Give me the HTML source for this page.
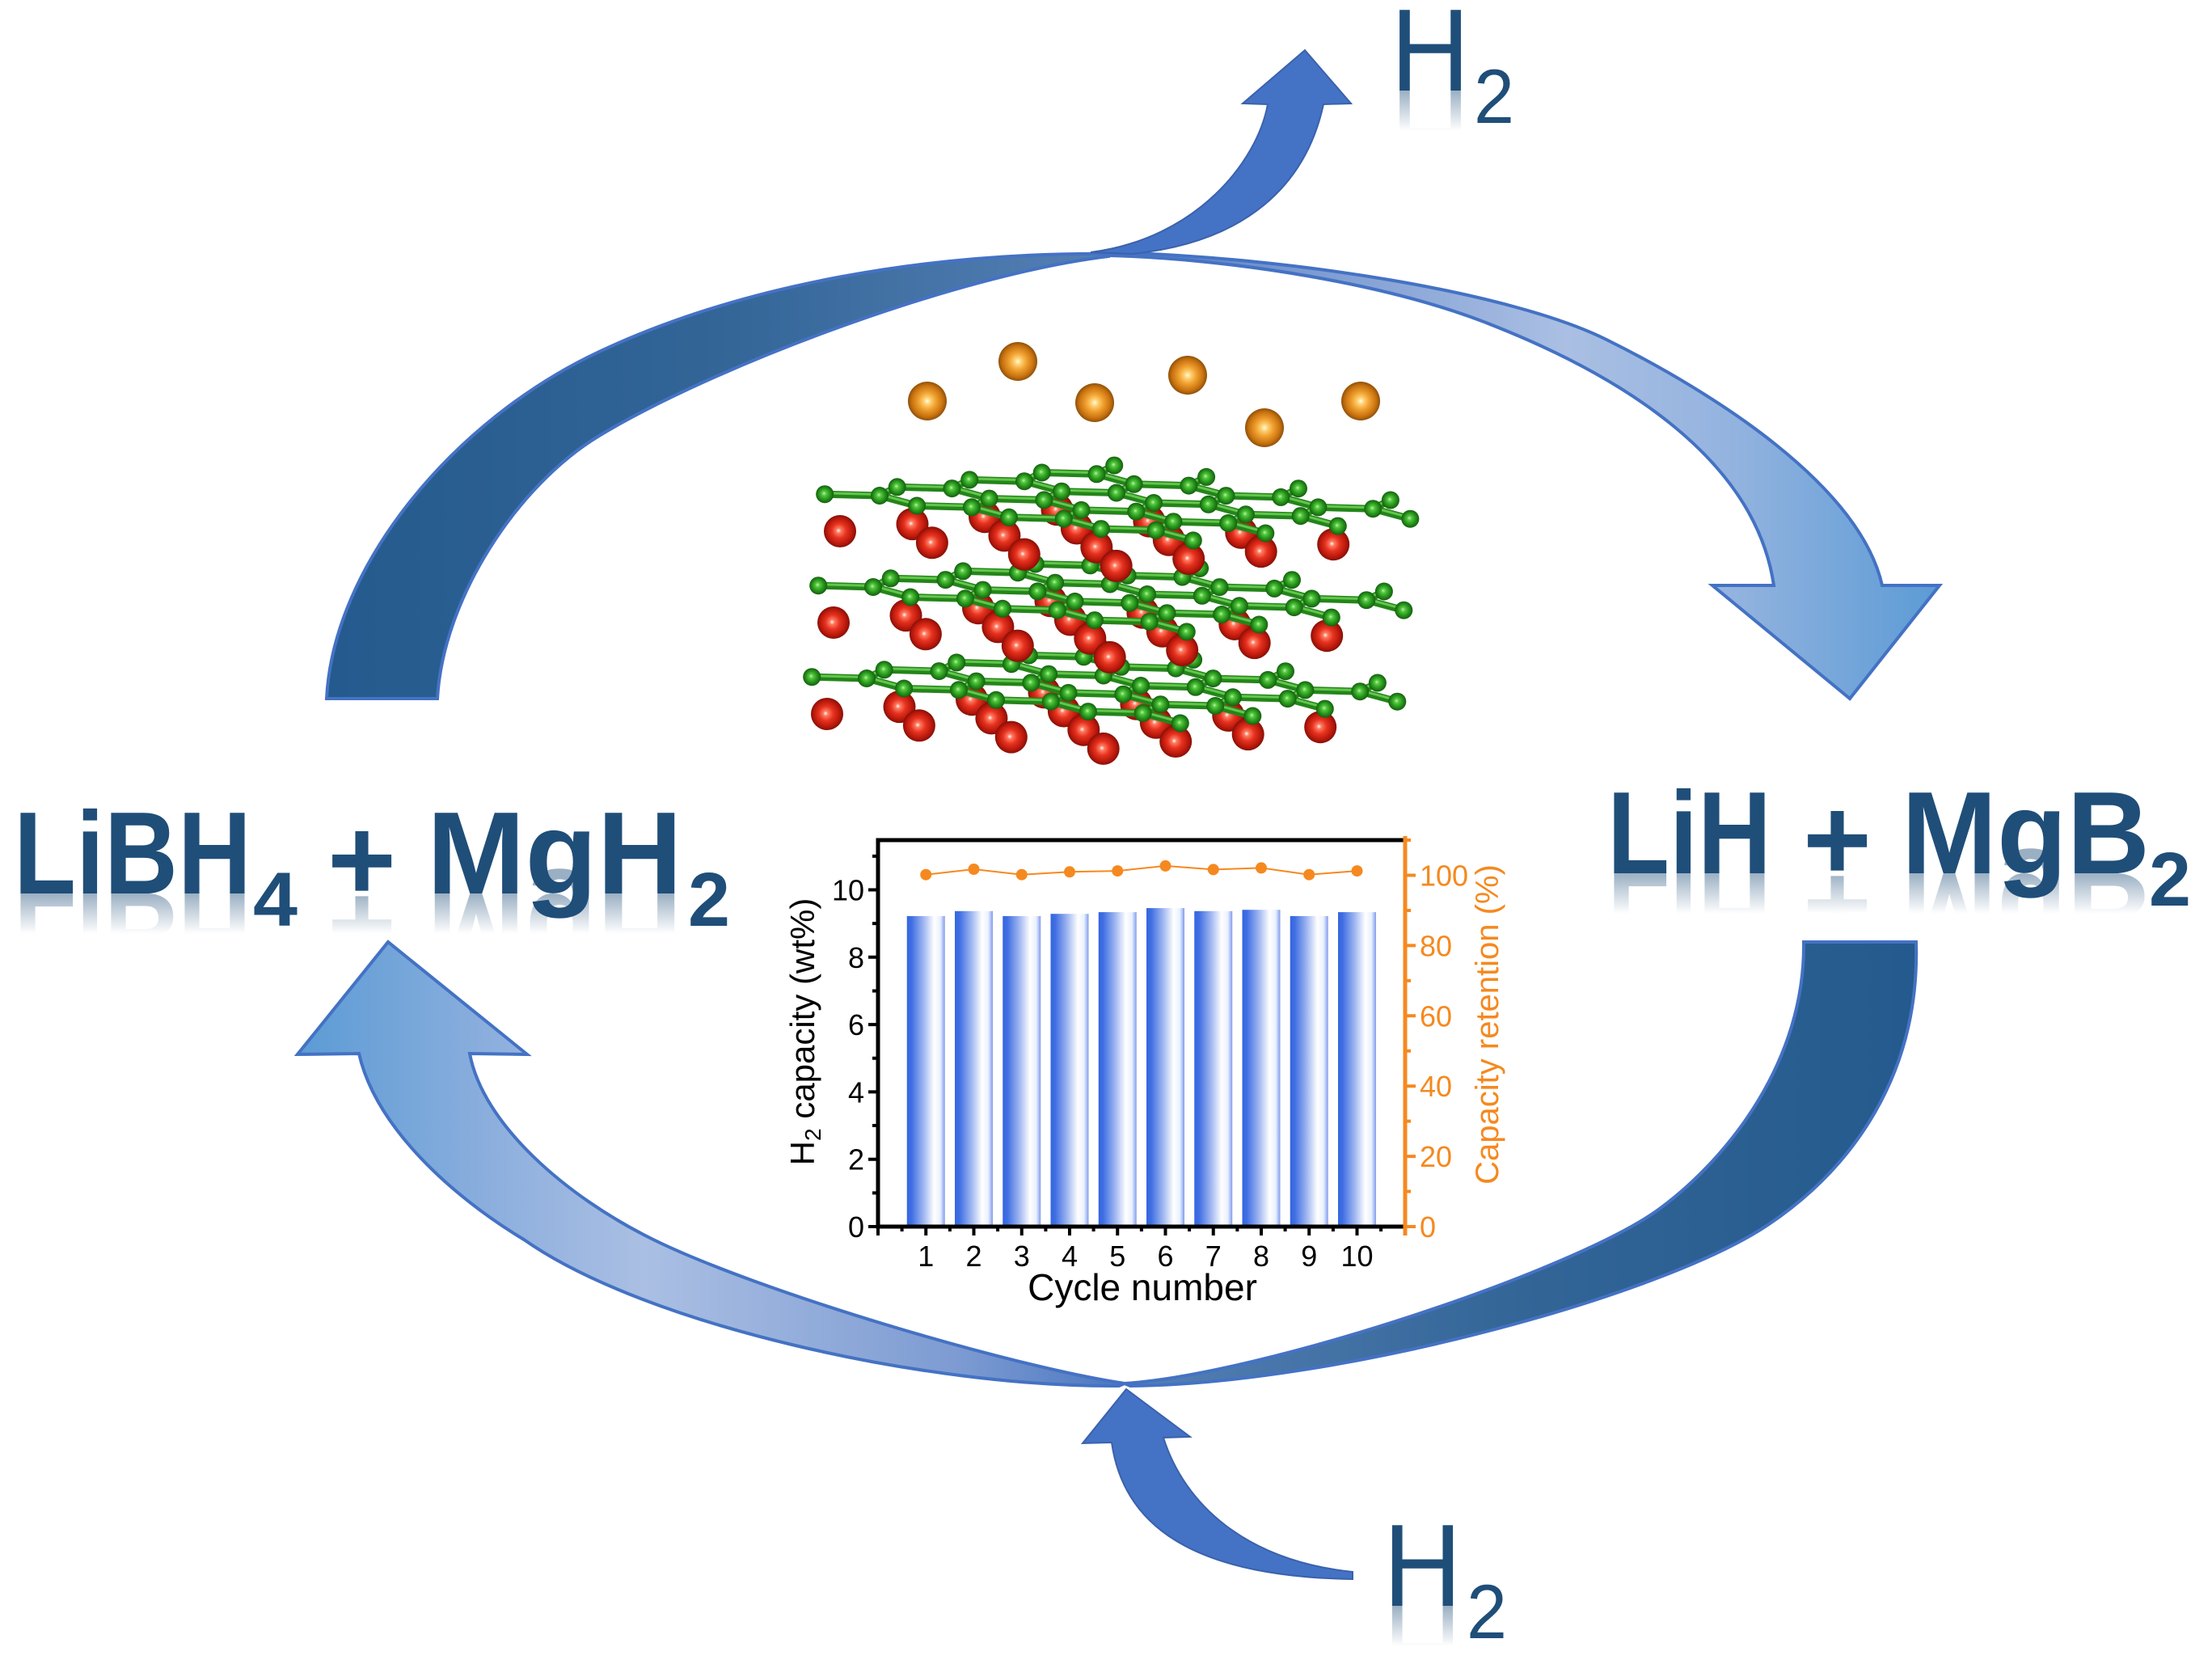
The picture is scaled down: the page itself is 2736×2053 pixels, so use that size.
<!DOCTYPE html>
<html>
<head>
<meta charset="utf-8">
<style>
html,body{margin:0;padding:0;background:#ffffff;}
svg{display:block;}
</style>
</head>
<body>
<svg width="2736" height="2053" viewBox="0 0 2736 2053">
<defs>
  <linearGradient id="gTL" gradientUnits="userSpaceOnUse" x1="404" y1="0" x2="1371" y2="0">
    <stop offset="0" stop-color="#245a8d"/>
    <stop offset="0.5" stop-color="#336597"/>
    <stop offset="1" stop-color="#5580b5"/>
  </linearGradient>
  <linearGradient id="gBR" gradientUnits="userSpaceOnUse" x1="1391" y1="0" x2="2370" y2="0">
    <stop offset="0" stop-color="#5580b5"/>
    <stop offset="0.5" stop-color="#336597"/>
    <stop offset="1" stop-color="#245a8d"/>
  </linearGradient>
  <linearGradient id="gTR" gradientUnits="userSpaceOnUse" x1="1371" y1="0" x2="2400" y2="0">
    <stop offset="0" stop-color="#4a76c0"/>
    <stop offset="0.2" stop-color="#7696cf"/>
    <stop offset="0.55" stop-color="#aabfe3"/>
    <stop offset="0.75" stop-color="#93b3df"/>
    <stop offset="1" stop-color="#5b9bd5"/>
  </linearGradient>
  <linearGradient id="gBL" gradientUnits="userSpaceOnUse" x1="368" y1="0" x2="1391" y2="0">
    <stop offset="0" stop-color="#5b9bd5"/>
    <stop offset="0.25" stop-color="#8fb0de"/>
    <stop offset="0.42" stop-color="#aabfe3"/>
    <stop offset="0.8" stop-color="#7d9bd2"/>
    <stop offset="1" stop-color="#4a76c0"/>
  </linearGradient>
  <linearGradient id="gBar" x1="0" y1="0" x2="1" y2="0">
    <stop offset="0" stop-color="#3566e0"/>
    <stop offset="0.12" stop-color="#3f6ee3"/>
    <stop offset="0.45" stop-color="#a3b9f1"/>
    <stop offset="0.72" stop-color="#ffffff"/>
    <stop offset="0.88" stop-color="#eaf0fd"/>
    <stop offset="1" stop-color="#7f9cec"/>
  </linearGradient>
  <radialGradient id="gRed" cx="0.5" cy="0.5" r="0.5" fx="0.45" fy="0.48">
    <stop offset="0" stop-color="#ffffff"/>
    <stop offset="0.15" stop-color="#ff7a60"/>
    <stop offset="0.45" stop-color="#e6321f"/>
    <stop offset="0.8" stop-color="#b8180c"/>
    <stop offset="1" stop-color="#851006"/>
  </radialGradient>
  <radialGradient id="gGreen" cx="0.5" cy="0.5" r="0.5" fx="0.45" fy="0.45">
    <stop offset="0" stop-color="#b8f5a5"/>
    <stop offset="0.25" stop-color="#55c63f"/>
    <stop offset="0.6" stop-color="#2a9a1e"/>
    <stop offset="1" stop-color="#145f0e"/>
  </radialGradient>
  <radialGradient id="gOrange" cx="0.5" cy="0.5" r="0.5" fx="0.5" fy="0.5">
    <stop offset="0" stop-color="#fffbe6"/>
    <stop offset="0.18" stop-color="#ffd070"/>
    <stop offset="0.45" stop-color="#f0a030"/>
    <stop offset="0.8" stop-color="#c8720f"/>
    <stop offset="1" stop-color="#8f500a"/>
  </radialGradient>
  <linearGradient id="rL" gradientUnits="userSpaceOnUse" x1="0" y1="1105" x2="0" y2="1055">
    <stop offset="0" stop-color="#1f4e79" stop-opacity="0.45"/>
    <stop offset="1" stop-color="#1f4e79" stop-opacity="0"/>
  </linearGradient>
  <linearGradient id="rR" gradientUnits="userSpaceOnUse" x1="0" y1="1080" x2="0" y2="1030">
    <stop offset="0" stop-color="#1f4e79" stop-opacity="0.45"/>
    <stop offset="1" stop-color="#1f4e79" stop-opacity="0"/>
  </linearGradient>
  <linearGradient id="rT" gradientUnits="userSpaceOnUse" x1="0" y1="112" x2="0" y2="62">
    <stop offset="0" stop-color="#1f4e79" stop-opacity="0.45"/>
    <stop offset="1" stop-color="#1f4e79" stop-opacity="0"/>
  </linearGradient>
  <linearGradient id="rB" gradientUnits="userSpaceOnUse" x1="0" y1="1986" x2="0" y2="1936">
    <stop offset="0" stop-color="#1f4e79" stop-opacity="0.45"/>
    <stop offset="1" stop-color="#1f4e79" stop-opacity="0"/>
  </linearGradient>

  <g id="tLb" font-family="'Liberation Sans', Arial, sans-serif" font-weight="bold">
    <text x="17" y="1105" font-size="145" textLength="294" lengthAdjust="spacingAndGlyphs">LiBH</text>
    <text x="405" y="1113" font-size="145" textLength="85" lengthAdjust="spacingAndGlyphs">+</text>
    <text x="528" y="1105" font-size="145" textLength="316" lengthAdjust="spacingAndGlyphs">MgH</text>
  </g>
  <g id="tLs" font-family="'Liberation Sans', Arial, sans-serif" font-weight="bold">
    <text x="313" y="1145" font-size="95" textLength="55" lengthAdjust="spacingAndGlyphs">4</text>
    <text x="851" y="1145" font-size="95" textLength="52" lengthAdjust="spacingAndGlyphs">2</text>
  </g>
  <g id="tRb" font-family="'Liberation Sans', Arial, sans-serif" font-weight="bold">
    <text x="1988" y="1080" font-size="145" textLength="203" lengthAdjust="spacingAndGlyphs">LiH</text>
    <text x="2230" y="1088" font-size="145" textLength="85" lengthAdjust="spacingAndGlyphs">+</text>
    <text x="2352" y="1080" font-size="145" textLength="307" lengthAdjust="spacingAndGlyphs">MgB</text>
  </g>
  <g id="tRs" font-family="'Liberation Sans', Arial, sans-serif" font-weight="bold">
    <text x="2658" y="1120" font-size="95" textLength="52" lengthAdjust="spacingAndGlyphs">2</text>
  </g>
  <g id="tTb" font-family="'Liberation Sans', Arial, sans-serif">
    <text x="1720" y="112" font-size="145" textLength="98" lengthAdjust="spacingAndGlyphs">H</text>
  </g>
  <g id="tTs" font-family="'Liberation Sans', Arial, sans-serif">
    <text x="1823" y="152" font-size="95" textLength="50" lengthAdjust="spacingAndGlyphs">2</text>
  </g>
  <g id="tBb" font-family="'Liberation Sans', Arial, sans-serif">
    <text x="1711" y="1986" font-size="145" textLength="97" lengthAdjust="spacingAndGlyphs">H</text>
  </g>
  <g id="tBs" font-family="'Liberation Sans', Arial, sans-serif">
    <text x="1814" y="2026" font-size="95" textLength="50" lengthAdjust="spacingAndGlyphs">2</text>
  </g>
</defs>

<rect x="0" y="0" width="2736" height="2053" fill="#ffffff"/>

<!-- cycle arcs -->
<g stroke="#4472c4" stroke-width="4" stroke-linejoin="miter">
  <path d="M404,864 C412,700 560,520 741,435 C920,351 1150,312 1371,314 L1371,317 C1180,340 880,455 741,539 C640,600 548,740 541,864 Z" fill="url(#gTL)"/>
  <path d="M1371,312 C1600,318 1870,362 1987,420 C2120,486 2300,600 2328,724 L2399,724 L2288,864 L2118,724 L2194,724 C2170,560 1990,460 1853,405 C1720,350 1520,320 1371,316 Z" fill="url(#gTR)"/>
  <path d="M2231,1165 L2370,1165 C2375,1330 2290,1445 2188,1514 C2055,1604 1650,1712 1398,1714 L1391,1711 C1560,1700 1951,1571 2054,1494 C2140,1430 2233,1310 2231,1165 Z" fill="url(#gBR)"/>
  <path d="M1391,1711 C1250,1690 938,1597 808,1533 C700,1480 597,1390 581,1303 L652,1304 L480,1165 L368,1304 L444,1303 C465,1395 560,1480 648,1533 C800,1640 1150,1716 1384,1714 Z" fill="url(#gBL)"/>
</g>

<!-- small H2 arrows -->
<g fill="#4472c4" stroke="#3a62ad" stroke-width="2">
  <path d="M1349,312 C1480,295 1555,200 1568,129 L1537,128 L1614,62 L1671,128 L1637,129 C1615,230 1540,300 1400,314 Z"/>
  <path d="M1339,1785 L1393,1718 L1472,1777 L1439,1778 C1465,1860 1540,1930 1673,1944 L1673,1953 C1480,1950 1390,1890 1375,1784 Z"/>
</g>

<!-- Li atoms -->
<g fill="url(#gOrange)">
  <circle cx="1147" cy="496" r="24"/>
  <circle cx="1259" cy="447" r="24"/>
  <circle cx="1354" cy="498" r="24"/>
  <circle cx="1469" cy="464" r="24"/>
  <circle cx="1564" cy="529" r="24"/>
  <circle cx="1683" cy="496" r="24"/>
</g>

<!-- MgB2 layers (generated) -->
<g id="crystal"></g>

<!-- chart -->
<g id="chart">
  <g fill="url(#gBar)">
    <rect x="1121.75" y="1133" width="47" height="384"/>
    <rect x="1181" y="1126.8" width="47" height="390.2"/>
    <rect x="1240.25" y="1133" width="47" height="384"/>
    <rect x="1299.5" y="1130.2" width="47" height="386.8"/>
    <rect x="1358.75" y="1128.1" width="47" height="388.9"/>
    <rect x="1418" y="1123.1" width="47" height="393.9"/>
    <rect x="1477.25" y="1126.8" width="47" height="390.2"/>
    <rect x="1536.5" y="1125.2" width="47" height="391.8"/>
    <rect x="1595.75" y="1133" width="47" height="384"/>
    <rect x="1655" y="1128.1" width="47" height="388.9"/>
  </g>
  <polyline points="1145.25,1081.7 1204.5,1075 1263.75,1081.7 1323,1078.3 1382.25,1077.1 1441.5,1070.9 1500.75,1075.4 1560,1073.4 1619.25,1081.7 1678.5,1077.1" fill="none" stroke="#f5891f" stroke-width="2"/>
  <g fill="#f5891f">
    <circle cx="1145.25" cy="1081.7" r="7"/>
    <circle cx="1204.5" cy="1075" r="7"/>
    <circle cx="1263.75" cy="1081.7" r="7"/>
    <circle cx="1323" cy="1078.3" r="7"/>
    <circle cx="1382.25" cy="1077.1" r="7"/>
    <circle cx="1441.5" cy="1070.9" r="7"/>
    <circle cx="1500.75" cy="1075.4" r="7"/>
    <circle cx="1560" cy="1073.4" r="7"/>
    <circle cx="1619.25" cy="1081.7" r="7"/>
    <circle cx="1678.5" cy="1077.1" r="7"/>
  </g>
  <!-- axes -->
  <g stroke="#000" stroke-width="5" fill="none">
    <path d="M1086,1036.5 V1519.5"/>
    <path d="M1083.5,1517 H1736"/>
    <path d="M1083.5,1039 H1736"/>
  </g>
  <g stroke="#000" stroke-width="4" fill="none">
    <path d="M1074,1517H1086M1074,1433.7H1086M1074,1350.4H1086M1074,1267.1H1086M1074,1183.8H1086M1074,1100.5H1086"/>
    <path d="M1079,1475.35H1086M1079,1392.05H1086M1079,1308.75H1086M1079,1225.45H1086M1079,1142.15H1086M1079,1058.85H1086"/>
    <path d="M1086,1517V1528M1145.25,1517V1528M1204.5,1517V1528M1263.75,1517V1528M1323,1517V1528M1382.25,1517V1528M1441.5,1517V1528M1500.75,1517V1528M1560,1517V1528M1619.25,1517V1528M1678.5,1517V1528"/>
    <path d="M1115.6,1517V1523M1174.9,1517V1523M1234.1,1517V1523M1293.4,1517V1523M1352.6,1517V1523M1411.9,1517V1523M1471.1,1517V1523M1530.4,1517V1523M1589.6,1517V1523M1648.9,1517V1523M1708.1,1517V1523"/>
  </g>
  <g stroke="#f5891f" stroke-width="5" fill="none">
    <path d="M1738,1034 V1528"/>
  </g>
  <g stroke="#f5891f" stroke-width="4" fill="none">
    <path d="M1738,1517H1751M1738,1430.1H1751M1738,1343.2H1751M1738,1256.3H1751M1738,1169.4H1751M1738,1082.5H1751"/>
    <path d="M1738,1473.55H1745M1738,1386.65H1745M1738,1299.75H1745M1738,1212.85H1745M1738,1125.95H1745M1738,1039.05H1745"/>
  </g>
  <g font-family="'Liberation Sans', Arial, sans-serif" font-size="36" fill="#000" text-anchor="end">
    <text x="1069" y="1530">0</text>
    <text x="1069" y="1446.7">2</text>
    <text x="1069" y="1363.4">4</text>
    <text x="1069" y="1280.1">6</text>
    <text x="1069" y="1196.8">8</text>
    <text x="1069" y="1113.5">10</text>
  </g>
  <g font-family="'Liberation Sans', Arial, sans-serif" font-size="36" fill="#f5891f" text-anchor="start">
    <text x="1756" y="1530">0</text>
    <text x="1756" y="1443.1">20</text>
    <text x="1756" y="1356.2">40</text>
    <text x="1756" y="1269.3">60</text>
    <text x="1756" y="1182.4">80</text>
    <text x="1756" y="1095.5">100</text>
  </g>
  <g font-family="'Liberation Sans', Arial, sans-serif" font-size="36" fill="#000" text-anchor="middle">
    <text x="1145.25" y="1566">1</text>
    <text x="1204.5" y="1566">2</text>
    <text x="1263.75" y="1566">3</text>
    <text x="1323" y="1566">4</text>
    <text x="1382.25" y="1566">5</text>
    <text x="1441.5" y="1566">6</text>
    <text x="1500.75" y="1566">7</text>
    <text x="1560" y="1566">8</text>
    <text x="1619.25" y="1566">9</text>
    <text x="1678.5" y="1566">10</text>
  </g>
  <text x="1413" y="1608" font-family="'Liberation Sans', Arial, sans-serif" font-size="46" fill="#000" text-anchor="middle">Cycle number</text>
  <text transform="translate(1007,1276) rotate(-90)" font-family="'Liberation Sans', Arial, sans-serif" font-size="42" fill="#000" text-anchor="middle">H<tspan font-size="28" dy="8">2</tspan><tspan dy="-8"> capacity (wt%)</tspan></text>
  <text transform="translate(1853,1267) rotate(-90)" font-family="'Liberation Sans', Arial, sans-serif" font-size="40" fill="#f5891f" text-anchor="middle">Capacity retention (%)</text>
</g>

<!-- text reflections (main glyphs only) -->
<g transform="translate(0,2210) scale(1,-1)"><use href="#tLb" fill="url(#rL)"/></g>
<g transform="translate(0,2160) scale(1,-1)"><use href="#tRb" fill="url(#rR)"/></g>
<g transform="translate(0,224) scale(1,-1)"><use href="#tTb" fill="url(#rT)"/></g>
<g transform="translate(0,3972) scale(1,-1)"><use href="#tBb" fill="url(#rB)"/></g>

<!-- main text -->
<use href="#tLb" fill="#1f4e79"/>
<use href="#tLs" fill="#1f4e79"/>
<use href="#tRb" fill="#1f4e79"/>
<use href="#tRs" fill="#1f4e79"/>
<use href="#tTb" fill="#1f4e79"/>
<use href="#tTs" fill="#1f4e79"/>
<use href="#tBb" fill="#1f4e79"/>
<use href="#tBs" fill="#1f4e79"/>
</svg>

<script>
(function(){
  var g = document.getElementById('crystal');
  var V = [[-67.8,-1.8],[21.7,-10.7],[46.1,12.5]];
  var T1 = [113.9,14.3], T2 = [89.5,-8.9];
  var s = '';
  function f(n){ return n.toFixed(1); }
  for (var L = 2; L >= 0; L--) {
    var ox = -8*L, oy = 113*L;
    var reds = [];
    for (var i = 0; i < 4; i++) for (var j = 0; j < 4; j++)
      reds.push([1039+ox+i*T1[0]+j*T2[0], 657+oy+i*T1[1]+j*T2[1]]);
    reds.sort(function(a,b){ return a[1]-b[1]; });
    for (var r = 0; r < reds.length; r++)
      s += '<circle cx="'+f(reds[r][0])+'" cy="'+f(reds[r][1])+'" r="20" fill="url(#gRed)"/>';
    var atoms = {}, bonds = [];
    for (var i2 = 0; i2 < 4; i2++) for (var j2 = 0; j2 < 4; j2++) {
      var a = [1088+ox+i2*T1[0]+j2*T2[0], 613+oy+i2*T1[1]+j2*T2[1]];
      atoms['A'+Math.round(a[0])+','+Math.round(a[1])] = a;
      for (var k = 0; k < 3; k++) {
        var b = [a[0]+V[k][0], a[1]+V[k][1]];
        atoms['B'+Math.round(b[0])+','+Math.round(b[1])] = b;
        bonds.push([a,b]);
      }
    }
    for (var q = 0; q < bonds.length; q++) {
      var p1 = bonds[q][0], p2 = bonds[q][1];
      s += '<line x1="'+f(p1[0])+'" y1="'+f(p1[1])+'" x2="'+f(p2[0])+'" y2="'+f(p2[1])+'" stroke="#24851a" stroke-width="9" stroke-linecap="round"/>';
      s += '<line x1="'+f(p1[0])+'" y1="'+f(p1[1]-1.5)+'" x2="'+f(p2[0])+'" y2="'+f(p2[1]-1.5)+'" stroke="#62c64c" stroke-width="3" stroke-linecap="round"/>';
    }
    var list = [];
    for (var key in atoms) list.push(atoms[key]);
    list.sort(function(a,b){ return a[1]-b[1]; });
    for (var m = 0; m < list.length; m++)
      s += '<circle cx="'+f(list[m][0])+'" cy="'+f(list[m][1])+'" r="11" fill="url(#gGreen)"/>';
  }
  g.innerHTML = s;
})();
</script>
</body>
</html>
